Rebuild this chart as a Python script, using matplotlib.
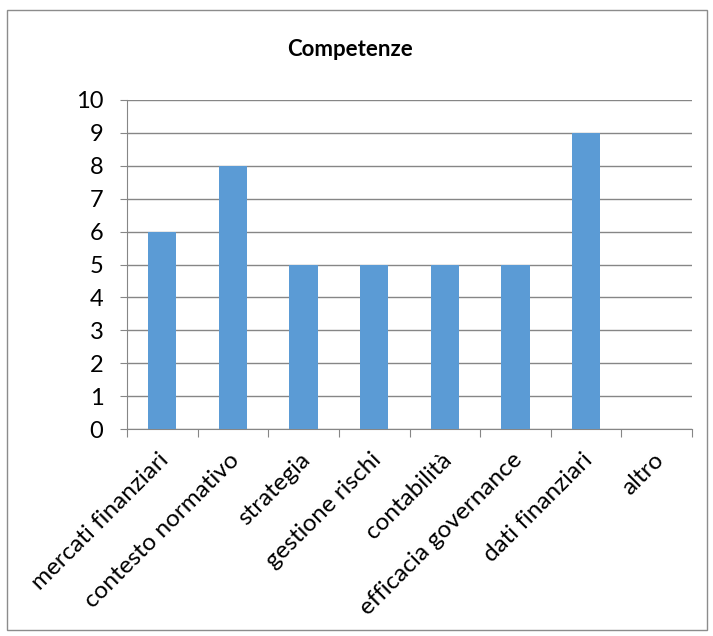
import numpy as np
import matplotlib.pyplot as plt
from matplotlib.patches import Rectangle
from matplotlib.transforms import ScaledTranslation

categories = ["mercati finanziari", "contesto normativo", "strategia", "gestione rischi",
              "contabilità", "efficacia governance", "dati finanziari", "altro"]
values = [6, 8, 5, 5, 5, 5, 9, 0]
y_ticks = list(range(0, 11))

BAR_COLOR = "#5B9BD5"
GRID_COLOR = "#868686"

plt.rcParams["font.family"] = ["Lato", "DejaVu Sans"]

W, H = 713, 636
fig = plt.figure(figsize=(W / 100, H / 100), dpi=100)

# outer chart frame
fig.patches.append(Rectangle((7 / W, 1 - 630 / H), 700 / W, 620 / H, transform=fig.transFigure,
                             fill=False, edgecolor="#8c8c8c", linewidth=1.0))

ax = fig.add_axes([127 / W, 1 - 429 / H, (692 - 127) / W, (429 - 100) / H])

x = np.arange(len(categories))
ax.bar(x, values, width=0.4, color=BAR_COLOR, zorder=3)

ax.set_xlim(-0.5, len(categories) - 0.5)
ax.set_ylim(0, 10)
ax.set_yticks(y_ticks)
ax.yaxis.grid(True, color=GRID_COLOR, linewidth=1.0, zorder=0)

for side in ["top", "right"]:
    ax.spines[side].set_visible(False)
ax.spines["left"].set_color(GRID_COLOR)
ax.spines["bottom"].set_color(GRID_COLOR)

ax.tick_params(axis="y", length=5, color=GRID_COLOR, labelsize=17, pad=12)
ax.set_xticks(np.arange(len(categories) + 1) - 0.5)
ax.set_xticklabels([])
ax.tick_params(axis="x", length=6, color=GRID_COLOR)

# rotated category labels, right end near the category centre
offset = ScaledTranslation(-4 / 100, -20 / 100, fig.dpi_scale_trans)
for xi, name in zip(x, categories):
    ax.text(xi, 0, name, rotation=45, ha="right", va="top", rotation_mode="anchor",
            fontsize=17.5, transform=ax.get_xaxis_transform() + offset)

fig.text(350 / W, 1 - 50 / H, "Competenze", ha="center", va="center", fontsize=16, fontweight="bold")

fig.savefig("out.png", dpi=100)
